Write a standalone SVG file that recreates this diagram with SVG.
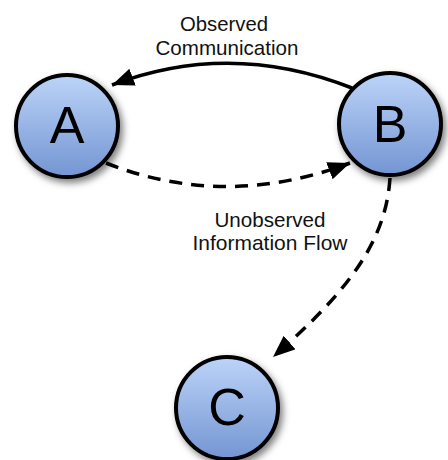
<svg xmlns="http://www.w3.org/2000/svg" width="448" height="460" viewBox="0 0 448 460">
<defs>
<linearGradient id="g" x1="0" y1="0" x2="0" y2="1">
<stop offset="0" stop-color="#bcd4f8"/>
<stop offset="1" stop-color="#7495d3"/>
</linearGradient>
<filter id="sh" x="-30%" y="-30%" width="160%" height="160%">
<feDropShadow dx="3" dy="4" stdDeviation="3.5" flood-color="#000" flood-opacity="0.5"/>
</filter>
<marker id="ah" markerUnits="userSpaceOnUse" markerWidth="24" markerHeight="20" refX="22" refY="9" orient="auto">
<path d="M0,0 L22,9 L0,18 z" fill="#000"/>
</marker>
</defs>
<style>
.node circle{fill:url(#g);stroke:#000;stroke-width:4;filter:url(#sh)}
.node text{font-family:"Liberation Sans",Arial,sans-serif;font-size:52px;text-anchor:middle;fill:#000}
.lbl{font-family:"Liberation Sans",Arial,sans-serif;font-size:21px;text-anchor:middle;fill:#111}
.edge{fill:none;stroke:#000;stroke-width:3.5;marker-end:url(#ah)}
.dash{stroke-dasharray:13 9}
</style>
<g id="connectors">
<path class="edge" d="M352,88 Q230,40 112,85"/>
<path class="edge dash" d="M106,163 Q225,210 350,163"/>
<path class="edge dash" d="M390,178 C386,240 350,290 273,357"/>
</g>
<g id="labels">
<text class="lbl" x="224" y="31" textLength="88" lengthAdjust="spacingAndGlyphs">Observed</text>
<text class="lbl" x="227" y="55" textLength="143" lengthAdjust="spacingAndGlyphs">Communication</text>
<text class="lbl" x="270" y="227" textLength="111" lengthAdjust="spacingAndGlyphs">Unobserved</text>
<text class="lbl" x="270" y="250" textLength="155" lengthAdjust="spacingAndGlyphs">Information Flow</text>
</g>
<g id="A" class="node"><circle cx="67" cy="126" r="51"/><text x="67" y="143">A</text></g>
<g id="B" class="node"><circle cx="390" cy="124" r="51"/><text x="390" y="142">B</text></g>
<g id="C" class="node"><circle cx="227" cy="408" r="51"/><text x="227" y="425">C</text></g>
</svg>
